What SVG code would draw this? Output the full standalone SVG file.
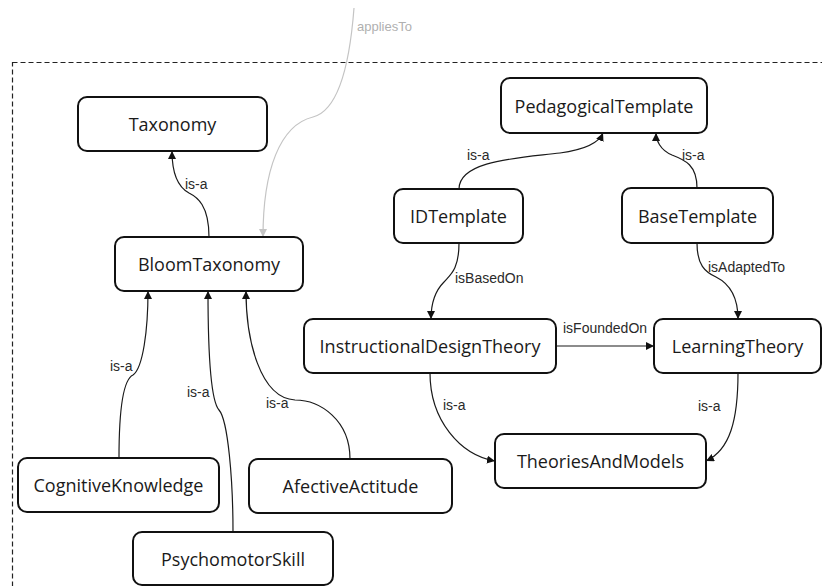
<svg xmlns="http://www.w3.org/2000/svg" width="822" height="586" viewBox="0 0 822 586">
  <style>
    .node rect { fill: #ffffff; stroke: #111111; stroke-width: 2; }
    .node text { font-family: "Open Sans", "Noto Sans", sans-serif; font-size: 18px; fill: #1a1a1a; text-anchor: middle; dominant-baseline: central; }
    .edge { fill: none; stroke: #1a1a1a; stroke-width: 1.2; marker-end: url(#arrow); }
    .edge.ext { stroke: #c4c4c4; marker-end: url(#arrowGray); }
    .lbl { font-family: "Liberation Sans", Arial, sans-serif; font-size: 14px; fill: #2a2a2a; }
    .lbl.ext { font-size: 13px; fill: #b0b0b0; }
    .frame { fill: none; stroke: #222222; stroke-width: 1.2; stroke-dasharray: 5 3; }
  </style>
  <defs>
    <marker id="arrow" viewBox="0 0 8 8" refX="8" refY="4" markerWidth="8" markerHeight="8" markerUnits="userSpaceOnUse" orient="auto">
      <path d="M0,0 L8,4 L0,8 z" fill="#111111"/>
    </marker>
    <marker id="arrowGray" viewBox="0 0 8 8" refX="8" refY="4" markerWidth="8" markerHeight="8" markerUnits="userSpaceOnUse" orient="auto">
      <path d="M0,0 L8,4 L0,8 z" fill="#c4c4c4"/>
    </marker>
  </defs>

  <rect width="822" height="586" fill="#ffffff"/>

  <!-- dashed package boundary -->
  <rect class="frame" x="12.5" y="62.5" width="830" height="560"/>

  <!-- connectors -->
  <g id="connectors">
    <path class="edge ext" d="M354,8 C350,60 340,110 313,117 C280,125 263,170 263,237"/>
    <text class="lbl ext" x="357" y="31">appliesTo</text>

    <path class="edge" d="M209,237 C209,205 197,197 189,193 C176,186 172,170 172,151"/>
    <text class="lbl" x="185" y="189">is-a</text>

    <path class="edge" d="M119,458 C119,420 122,380 133,375 C143,368 148,330 148,291"/>
    <text class="lbl" x="110" y="371">is-a</text>

    <path class="edge" d="M233,532 C233,480 228,420 219,410 C210,400 208,340 208,291"/>
    <text class="lbl" x="187" y="397">is-a</text>

    <path class="edge" d="M350,459 C350,420 320,400 295,400 C260,398 246,340 246,291"/>
    <text class="lbl" x="266" y="408">is-a</text>

    <path class="edge" d="M459,189 C459,160 520,158 560,153 C590,149 600,140 603,133"/>
    <text class="lbl" x="467" y="160">is-a</text>

    <path class="edge" d="M697,188 C697,165 685,160 672,155 C660,150 656,140 656,133"/>
    <text class="lbl" x="682" y="160">is-a</text>

    <path class="edge" d="M459,243 C459,270 450,275 444,282 C434,292 431,305 431,319"/>
    <text class="lbl" x="455" y="283">isBasedOn</text>

    <path class="edge" d="M697,243 C697,265 705,272 716,277 C732,285 738,300 738,319"/>
    <text class="lbl" x="708" y="272">isAdaptedTo</text>

    <path class="edge" d="M556,346 L654,346"/>
    <text class="lbl" x="563" y="333">isFoundedOn</text>

    <path class="edge" d="M430,373 C430,420 460,455 495,461"/>
    <text class="lbl" x="443" y="410">is-a</text>

    <path class="edge" d="M738,373 C738,420 730,450 706,461"/>
    <text class="lbl" x="698" y="411">is-a</text>
  </g>

  <!-- nodes -->
  <g id="taxonomy" class="node">
    <rect x="78" y="97" width="189" height="54" rx="9"/>
    <text x="172.5" y="124">Taxonomy</text>
  </g>
  <g id="bloomTaxonomy" class="node">
    <rect x="115" y="237" width="188" height="54" rx="9"/>
    <text x="209" y="264">BloomTaxonomy</text>
  </g>
  <g id="pedagogicalTemplate" class="node">
    <rect x="501" y="78" width="206" height="55" rx="9"/>
    <text x="604" y="105.5">PedagogicalTemplate</text>
  </g>
  <g id="idTemplate" class="node">
    <rect x="394" y="189" width="129" height="54" rx="9"/>
    <text x="458.5" y="216">IDTemplate</text>
  </g>
  <g id="baseTemplate" class="node">
    <rect x="622" y="188" width="151" height="55" rx="9"/>
    <text x="697.5" y="215.5">BaseTemplate</text>
  </g>
  <g id="instructionalDesignTheory" class="node">
    <rect x="304" y="319" width="252" height="54" rx="9"/>
    <text x="430" y="346">InstructionalDesignTheory</text>
  </g>
  <g id="learningTheory" class="node">
    <rect x="654" y="319" width="167" height="54" rx="9"/>
    <text x="737.5" y="346">LearningTheory</text>
  </g>
  <g id="theoriesAndModels" class="node">
    <rect x="495" y="434" width="211" height="54" rx="9"/>
    <text x="600.5" y="461">TheoriesAndModels</text>
  </g>
  <g id="cognitiveKnowledge" class="node">
    <rect x="18" y="458" width="201" height="54" rx="9"/>
    <text x="118.5" y="485">CognitiveKnowledge</text>
  </g>
  <g id="afectiveActitude" class="node">
    <rect x="249" y="459" width="203" height="54" rx="9"/>
    <text x="350.5" y="486">AfectiveActitude</text>
  </g>
  <g id="psychomotorSkill" class="node">
    <rect x="133" y="532" width="200" height="53" rx="9"/>
    <text x="233" y="558.5">PsychomotorSkill</text>
  </g>
</svg>
